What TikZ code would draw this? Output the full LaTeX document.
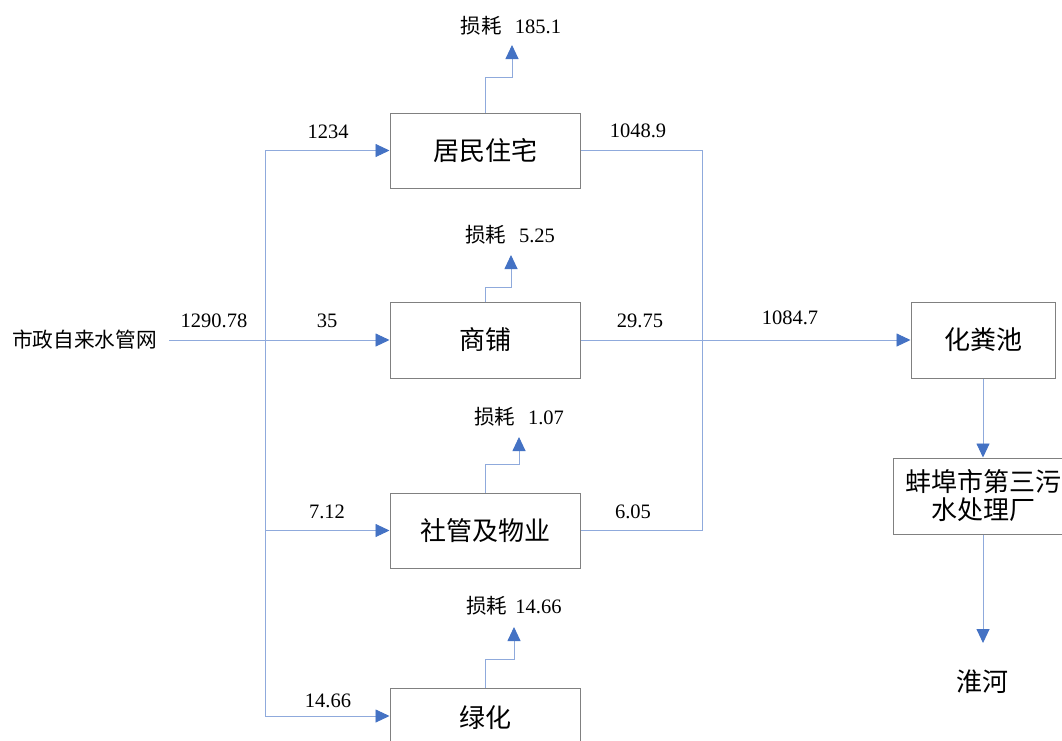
\documentclass[tikz,border=0pt]{standalone}
\usepackage{fontspec}
\setmainfont{Liberation Serif}
\newfontfamily\cjk{Noto Sans CJK SC}
\usetikzlibrary{arrows.meta}
\definecolor{lineblue}{RGB}{143,170,220}
\definecolor{tipblue}{RGB}{68,114,196}
\definecolor{boxgray}{RGB}{128,128,128}
\begin{document}
\begin{tikzpicture}[x=1pt,y=-1pt,
  flow/.style={draw=lineblue,line width=0.9pt},
  arr/.style={flow,-{Triangle[length=14pt,width=13pt,color=tipblue]}},
  box/.style={draw=boxgray,line width=1pt,minimum width=190pt,minimum height=75pt,inner sep=0pt,font=\cjk\fontsize{26}{28}\selectfont},
  num/.style={font=\fontsize{20.5}{24}\selectfont,inner sep=0pt},
  loss/.style={font=\fontsize{20.5}{24}\selectfont,inner sep=0pt},
  plain/.style={font=\cjk\fontsize{26}{28}\selectfont,inner sep=0pt}]
\useasboundingbox (0,0) rectangle (1062,740);
\clip (0,0) rectangle (1062,740);
\fill[white] (0,0) rectangle (1062,740);

% boxes
\node[box] (b1) at (485,150.5) {居民住宅};
\node[box,minimum height=76pt] (b2) at (485,340) {商铺};
\node[box] (b3) at (485,530.5) {社管及物业};
\node[box,minimum height=60pt] (b4) at (485,718) {绿化};
\node[box,minimum width=144pt,minimum height=76pt] (tank) at (983,340) {化粪池};
\node[box,minimum width=180pt,minimum height=76pt,align=center] (plant) at (983,496) {蚌埠市第三污\\水处理厂};
\node[plain] (river) at (982,682) {淮河};
\node[font=\cjk\fontsize{20.7}{24}\selectfont,inner xsep=12pt,inner ysep=0pt] (src) at (84.5,340) {市政自来水管网};

% loss labels
\node[loss] (l1) at (511,26) {{\cjk 损耗}\hspace{13pt}185.1};
\node[loss] (l2) at (510,235) {{\cjk 损耗}\hspace{13pt}5.25};
\node[loss] (l3) at (519,417) {{\cjk 损耗}\hspace{13pt}1.07};
\node[loss] (l4) at (514,606) {{\cjk 损耗}\hspace{8pt}14.66};

% coordinates
\coordinate (J1) at (265,150.5);
\coordinate (J3) at (265,530.5);
\coordinate (J4) at (265,716);
\coordinate (R3) at (702,530.5);
\coordinate (k1) at (512,77);   \coordinate (t1) at (512,45);
\coordinate (k2) at (511,287);  \coordinate (t2) at (511,255);
\coordinate (k3) at (519,464);  \coordinate (t3) at (519,437);
\coordinate (k4) at (514,659);  \coordinate (t4) at (514,627);
\coordinate (rtip) at (983,643);

% connectors
\draw[flow] (J1) -- (J4);
\draw[arr] (J1) -- (b1.west);
\draw[arr] (src.east) -- (b2.west);
\draw[arr] (J3) -- (b3.west);
\draw[arr] (J4) -- (J4 -| b4.west);
\draw[flow] (b1.east) -| (R3) -- (b3.east);
\draw[arr] (b2.east) -- (tank.west);
\draw[arr] (tank.south) -- (plant.north);
\draw[arr] (plant.south) -- (rtip);
\draw[arr] (b1.north) |- (k1) -- (t1);
\draw[arr] (b2.north) |- (k2) -- (t2);
\draw[arr] (b3.north) |- (k3) -- (t3);
\draw[arr] (b4.north) |- (k4) -- (t4);

% flow values
\node[num] (v1) at (328,132) {1234};
\node[num] (v0) at (214,321) {1290.78};
\node[num] (v2) at (327,321) {35};
\node[num] (v3) at (327,512) {7.12};
\node[num] (v4) at (328,701) {14.66};
\node[num] (w1) at (638,131) {1048.9};
\node[num] (w2) at (640,321) {29.75};
\node[num] (w3) at (633,512) {6.05};
\node[num] (w0) at (790,318) {1084.7};
\end{tikzpicture}
\end{document}
